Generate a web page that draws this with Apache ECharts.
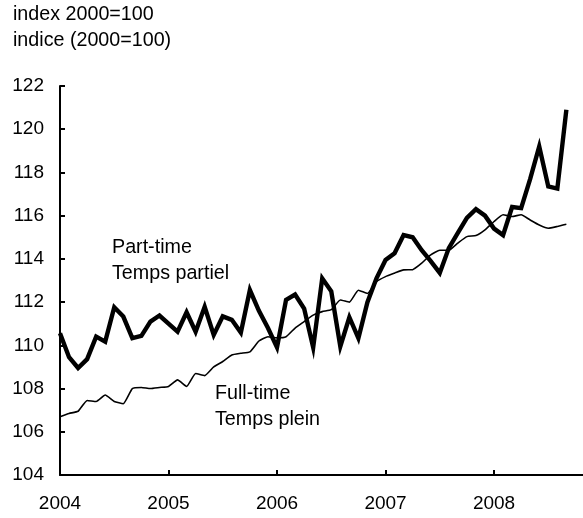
<!DOCTYPE html>
<html>
<head>
<meta charset="utf-8">
<script src="https://cdn.jsdelivr.net/npm/echarts@6/dist/echarts.min.js"></script>
<style>
html,body{margin:0;padding:0;background:#fff;}
#c{width:583px;height:518px;}
</style>
</head>
<body>
<div id="c"></div>
<script>
// Monthly observations, January 2004 to September 2008
const startYear = 2004;
const partTime = [
  110.56, 109.45, 108.95, 109.36, 110.4, 110.17, 111.76, 111.33, 110.33, 110.44, 111.1, 111.38,
  111.0, 110.63, 111.53, 110.63, 111.78, 110.48, 111.34, 111.18, 110.59, 112.56, 111.6, 110.8,
  109.9, 112.1, 112.35, 111.7, 109.9, 113.1, 112.5, 109.95, 111.3, 110.33, 112.0, 113.1,
  113.95, 114.26, 115.1, 115.0, 114.4, 113.9, 113.35, 114.5, 115.2, 115.9, 116.3, 116.0,
  115.4, 115.1, 116.4, 116.35, 117.7, 119.2, 117.35, 117.25, 120.9
];
const fullTime = [
  106.7, 106.85, 106.95, 107.45, 107.4, 107.7, 107.4, 107.3, 108.0, 108.05, 108.0, 108.05,
  108.1, 108.4, 108.1, 108.7, 108.6, 109.0, 109.25, 109.55, 109.63, 109.7, 110.2, 110.4,
  110.35, 110.4, 110.8, 111.1, 111.4, 111.56, 111.65, 112.1, 112.0, 112.55, 112.4, 112.95,
  113.18, 113.34, 113.49, 113.5, 113.8, 114.19, 114.4, 114.4, 114.73, 115.03, 115.08, 115.34,
  115.73, 116.04, 115.96, 116.04, 115.8, 115.57, 115.42, 115.5, 115.6
];
const yearTicks = [2004, 2005, 2006, 2007, 2008];
const titleLines = ['index 2000=100', 'indice (2000=100)'];
const partLabel = ['Part-time', 'Temps partiel'];
const fullLabel = ['Full-time', 'Temps plein'];

const FONT = '"Liberation Sans", Arial, sans-serif';
const FS = 19;      // tick labels
const FS_T = 19.7;  // titles and annotations

// month positions (fractional years)
const monthPos = partTime.map((_, i) => startYear + i / 12);
const partData = partTime.map((v, i) => [monthPos[i], v]);
const fullData = fullTime.map((v, i) => [monthPos[i], v]);

const chart = echarts.init(document.getElementById('c'), null, {renderer: 'canvas'});

function txtAt(t, x, y) {
  return {type: 'text', x: x, y: y,
    style: {text: t, fill: '#000', font: FS_T + 'px ' + FONT, verticalAlign: 'middle'}};
}

chart.setOption({
  animation: false,
  backgroundColor: '#fff',
  grid: {left: 60, right: 0, top: 86, bottom: 43, containLabel: false},
  xAxis: {
    type: 'value', min: 2004, max: 2008.82, interval: 1,
    axisLine: {lineStyle: {color: '#000', width: 2}},
    axisTick: {inside: true, length: 5, lineStyle: {color: '#000', width: 2}},
    splitLine: {show: false},
    axisLabel: {
      color: '#000', fontSize: FS, fontFamily: FONT, margin: 19, showMaxLabel: false,
      formatter: v => yearTicks.indexOf(Math.round(v)) >= 0 && Math.abs(v - Math.round(v)) < 1e-6 ? String(Math.round(v)) : ''
    }
  },
  yAxis: {
    type: 'value', min: 104, max: 122, interval: 2,
    axisLine: {show: true, lineStyle: {color: '#000', width: 2}},
    axisTick: {show: true, inside: true, length: 5, lineStyle: {color: '#000', width: 2}},
    splitLine: {show: false},
    axisLabel: {color: '#000', fontSize: FS, fontFamily: FONT, margin: 16}
  },
  series: [
    {type: 'line', name: 'Full-time', data: fullData, showSymbol: false, smooth: 0.15,
     lineStyle: {color: '#000', width: 1.6}, z: 2},
    {type: 'line', name: 'Part-time', data: partData, showSymbol: false,
     lineStyle: {color: '#000', width: 4.4, join: 'miter'}, z: 3}
  ],
  graphic: [
    txtAt(titleLines[0], 13, 15),
    txtAt(titleLines[1], 13, 41),
    txtAt(partLabel[0], 112, 248),
    txtAt(partLabel[1], 112, 274),
    txtAt(fullLabel[0], 215, 394),
    txtAt(fullLabel[1], 215, 420)
  ]
});
</script>
</body>
</html>
